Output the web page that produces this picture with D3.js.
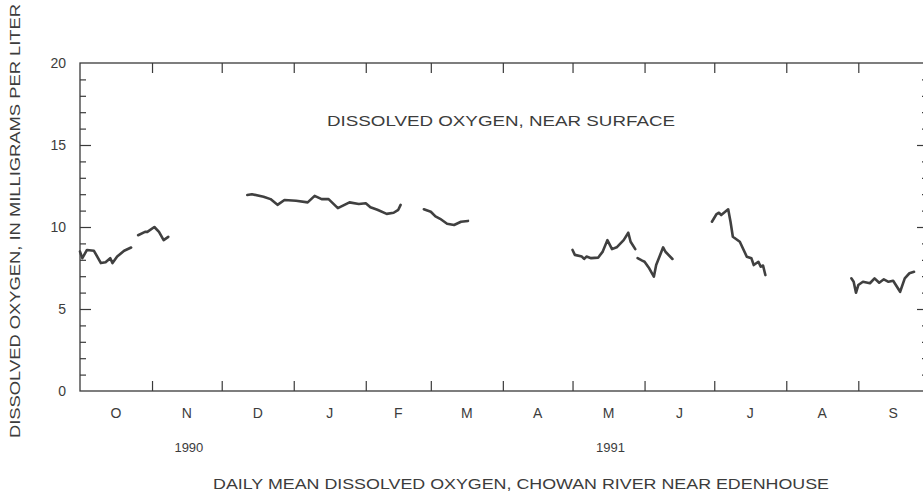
<!DOCTYPE html>
<html><head><meta charset="utf-8">
<script src="https://cdn.jsdelivr.net/npm/d3@7"></script>
<style>
body{margin:0;background:#fff}
svg{display:block}
text{font-family:"Liberation Sans",Arial,Helvetica,sans-serif;fill:#3c3c3c}
</style>
</head><body>
<svg id="chart" width="923" height="493"></svg>
<script>
// ---- data (daily mean dissolved oxygen, mg/L; gaps = missing record) ----
const segOctober = [["1990-10-01",8.5],["1990-10-02",8.1],["1990-10-04",8.6],["1990-10-07",8.55],["1990-10-10",7.8],["1990-10-12",7.85],["1990-10-14",8.1],["1990-10-15",7.8],["1990-10-17",8.2],["1990-10-20",8.55],["1990-10-23",8.75]];
const segNovember = [["1990-10-26",9.5],["1990-10-29",9.7],["1990-10-30",9.7],["1990-11-02",10.0],["1990-11-04",9.7],["1990-11-06",9.2],["1990-11-08",9.4]];
const segWinter = [["1990-12-12",11.95],["1990-12-14",12.0],["1990-12-19",11.85],["1990-12-22",11.7],["1990-12-25",11.35],["1990-12-28",11.65],["1991-01-02",11.6],["1991-01-07",11.5],["1991-01-10",11.9],["1991-01-13",11.7],["1991-01-16",11.7],["1991-01-20",11.15],["1991-01-25",11.5],["1991-01-29",11.4],["1991-02-01",11.45],["1991-02-03",11.2],["1991-02-06",11.05],["1991-02-10",10.8],["1991-02-13",10.87],["1991-02-15",11.05],["1991-02-16",11.35]];
const segMarch = [["1991-02-26",11.08],["1991-03-01",10.93],["1991-03-03",10.65],["1991-03-05",10.5],["1991-03-08",10.2],["1991-03-11",10.12],["1991-03-14",10.32],["1991-03-17",10.37]];
const segMay = [["1991-05-01",8.6],["1991-05-02",8.3],["1991-05-05",8.2],["1991-05-06",8.05],["1991-05-07",8.2],["1991-05-09",8.1],["1991-05-12",8.13],["1991-05-14",8.5],["1991-05-16",9.2],["1991-05-18",8.65],["1991-05-20",8.76],["1991-05-23",9.2],["1991-05-25",9.65],["1991-05-26",9.1],["1991-05-28",8.65]];
const segJune = [["1991-05-29",8.1],["1991-05-31",7.95],["1991-06-01",7.88],["1991-06-03",7.48],["1991-06-05",6.97],["1991-06-06",7.68],["1991-06-09",8.76],["1991-06-10",8.49],["1991-06-13",8.05]];
const segJuly = [["1991-06-30",10.32],["1991-07-02",10.79],["1991-07-03",10.87],["1991-07-04",10.73],["1991-07-07",11.08],["1991-07-08",10.32],["1991-07-09",9.41],["1991-07-12",9.1],["1991-07-15",8.19],["1991-07-17",8.09],["1991-07-18",7.68],["1991-07-20",7.88],["1991-07-21",7.58],["1991-07-22",7.65],["1991-07-23",7.07]];
const segSeptember = [["1991-08-29",6.87],["1991-08-30",6.66],["1991-08-31",5.99],["1991-09-01",6.46],["1991-09-03",6.66],["1991-09-06",6.57],["1991-09-08",6.87],["1991-09-10",6.6],["1991-09-12",6.81],["1991-09-14",6.66],["1991-09-16",6.72],["1991-09-19",6.05],["1991-09-21",6.87],["1991-09-23",7.18],["1991-09-25",7.27]];
const segments = [segOctober, segNovember, segWinter, segMarch, segMay, segJune, segJuly, segSeptember];

const monthLabels = ["O","N","D","J","F","M","A","M","J","J","A","S"];
const yearLabels = [["1990","1990-11-01"],["1991","1991-05-01"]];
const yTicks = [0,5,10,15,20];
const yMinorTicks = d3.range(0,21,1);
const titleText = "DISSOLVED OXYGEN, NEAR SURFACE";
const yAxisTitle = "DISSOLVED OXYGEN, IN MILLIGRAMS PER LITER";
const captionText = "DAILY MEAN DISSOLVED OXYGEN, CHOWAN RIVER NEAR EDENHOUSE";

// ---- layout ----
const parse = d3.timeParse("%Y-%m-%d");
const svg = d3.select("#chart");
const x0 = 80, x1 = 928, yTop = 63, yBot = 391;
const start = parse("1990-10-01"), end = parse("1991-10-01");
const x = d3.scaleTime().domain([start, end]).range([x0, x1]);
const y = d3.scaleLinear().domain([0, 20]).range([yBot, yTop]);
const months = d3.timeMonth.range(start, end);
const ink = "#3a3a3a";

// frame
svg.append("rect").attr("x", x0).attr("y", yTop).attr("width", x1 - x0).attr("height", yBot - yTop)
  .attr("fill", "none").attr("stroke", ink).attr("stroke-width", 1.3);

// bottom & top axes (month ticks, inward)
const xb = svg.append("g").attr("transform", `translate(0,${yBot})`)
  .call(d3.axisBottom(x).tickValues(months.slice(1)).tickSize(-10).tickFormat(""));
const xt = svg.append("g").attr("transform", `translate(0,${yTop})`)
  .call(d3.axisTop(x).tickValues(months.slice(1)).tickSize(-10).tickFormat(""));
// left & right axes: minor and major ticks inward
const yl = svg.append("g").attr("transform", `translate(${x0},0)`)
  .call(d3.axisLeft(y).tickValues(yMinorTicks.filter(v => v % 5)).tickSize(-6).tickFormat(""));
const yl2 = svg.append("g").attr("transform", `translate(${x0},0)`)
  .call(d3.axisLeft(y).tickValues(yTicks.slice(1, -1)).tickSize(-11).tickFormat(""));
const yr = svg.append("g").attr("transform", `translate(${x1},0)`)
  .call(d3.axisRight(y).tickValues(yMinorTicks.filter(v => v % 5)).tickSize(-6).tickFormat(""));
const yr2 = svg.append("g").attr("transform", `translate(${x1},0)`)
  .call(d3.axisRight(y).tickValues(yTicks.slice(1, -1)).tickSize(-11).tickFormat(""));
[xb, xt, yl, yl2, yr, yr2].forEach(g => {
  g.select(".domain").remove();
  g.selectAll("line").attr("stroke", ink).attr("stroke-width", 1.2);
});

// y tick labels
svg.append("g").selectAll("text").data(yTicks).join("text")
  .attr("x", 66).attr("y", d => y(d) + 5)
  .attr("text-anchor", "end").attr("font-size", 14).text(d => d);

// month labels at mid-month
svg.append("g").selectAll("text").data(months).join("text")
  .attr("x", (d, i) => x(new Date((+d + +d3.timeMonth.offset(d, 1)) / 2)))
  .attr("y", 418).attr("text-anchor", "middle").attr("font-size", 14)
  .text((d, i) => monthLabels[i]);

// year labels
svg.append("g").selectAll("text").data(yearLabels).join("text")
  .attr("x", d => { const m = parse(d[1]); return x(new Date((+m + +d3.timeMonth.offset(m, 1)) / 2)) + 2; })
  .attr("y", 452).attr("text-anchor", "middle").attr("font-size", 13)
  .text(d => d[0]);

// titles
svg.append("text").attr("x", 501).attr("y", 126).attr("text-anchor", "middle")
  .attr("font-size", 15).attr("textLength", 348).attr("lengthAdjust", "spacingAndGlyphs").text(titleText);
svg.append("text").attr("x", 521).attr("y", 489).attr("text-anchor", "middle")
  .attr("font-size", 15).attr("textLength", 616).attr("lengthAdjust", "spacingAndGlyphs").text(captionText);
svg.append("text").attr("transform", "translate(20,221) rotate(-90)").attr("text-anchor", "middle")
  .attr("font-size", 15).attr("textLength", 434).attr("lengthAdjust", "spacingAndGlyphs").text(yAxisTitle);

// data lines
const line = d3.line().x(d => x(parse(d[0]))).y(d => y(d[1])).curve(d3.curveLinear);
svg.append("g").selectAll("path").data(segments).join("path")
  .attr("d", line).attr("fill", "none").attr("stroke", "#404040")
  .attr("stroke-width", 2.6).attr("stroke-linejoin", "round").attr("stroke-linecap", "round");
</script>
</body></html>
